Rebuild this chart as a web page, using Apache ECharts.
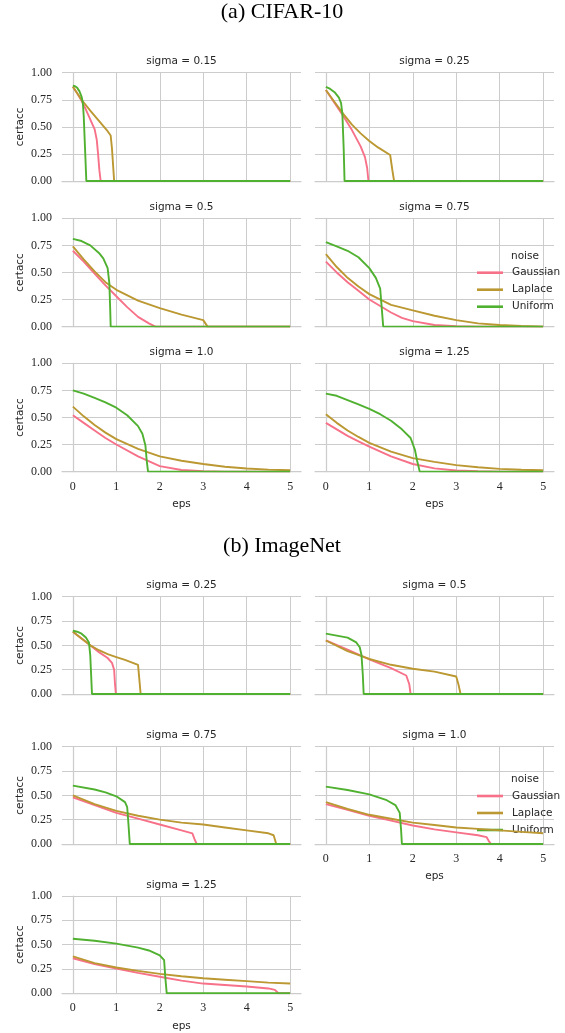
<!DOCTYPE html>
<html><head><meta charset="utf-8">
<script src="https://cdn.jsdelivr.net/npm/echarts@6/dist/echarts.min.js"></script>
<style>html,body{margin:0;padding:0;background:#fff}#c{width:565px;height:1033px}</style>
</head><body><div id="c"></div>
<script>
// ---------- data ----------
const epsTicks = [0, 1, 2, 3, 4, 5];
const yTicks = [0, 0.25, 0.5, 0.75, 1.0];
const yTickLabels = ['0.00', '0.25', '0.50', '0.75', '1.00'];
const noiseNames = ['Gaussian', 'Laplace', 'Uniform'];
const cifarSigmas = ['0.15', '0.25', '0.5', '0.75', '1.0', '1.25'];
const imagenetSigmas = ['0.25', '0.5', '0.75', '1.0', '1.25'];

// CIFAR-10
const c015G = [[0,0.87],[0.1,0.81],[0.2,0.74],[0.3,0.66],[0.4,0.57],[0.5,0.48],[0.55,0.38],[0.58,0.25],[0.61,0.1],[0.64,0],[5,0]];
const c015L = [[0,0.87],[0.1,0.81],[0.2,0.75],[0.4,0.65],[0.6,0.555],[0.8,0.46],[0.87,0.42],[0.9,0.3],[0.93,0.12],[0.95,0],[5,0]];
const c015U = [[0,0.88],[0.05,0.875],[0.1,0.86],[0.15,0.83],[0.2,0.78],[0.23,0.72],[0.25,0.6],[0.28,0.3],[0.31,0],[5,0]];

const c025G = [[0,0.84],[0.2,0.72],[0.4,0.6],[0.6,0.47],[0.8,0.32],[0.9,0.22],[0.95,0.12],[0.98,0],[5,0]];
const c025L = [[0,0.84],[0.2,0.73],[0.4,0.62],[0.6,0.52],[0.8,0.44],[1.0,0.37],[1.2,0.31],[1.48,0.24],[1.53,0.1],[1.57,0],[5,0]];
const c025U = [[0,0.87],[0.1,0.85],[0.2,0.82],[0.3,0.77],[0.35,0.72],[0.38,0.62],[0.41,0.3],[0.43,0],[5,0]];

const c050G = [[0,0.70],[0.25,0.60],[0.5,0.49],[0.75,0.38],[1.0,0.28],[1.25,0.18],[1.5,0.09],[1.75,0.03],[1.9,0],[5,0]];
const c050L = [[0,0.74],[0.25,0.62],[0.5,0.51],[0.75,0.41],[1.0,0.34],[1.5,0.24],[2.0,0.17],[2.5,0.11],[3.0,0.06],[3.05,0.03],[3.1,0],[5,0]];
const c050U = [[0,0.81],[0.2,0.79],[0.4,0.75],[0.6,0.68],[0.7,0.63],[0.8,0.54],[0.84,0.4],[0.86,0.15],[0.87,0],[5,0]];

const c075G = [[0,0.60],[0.25,0.50],[0.5,0.41],[0.75,0.33],[1.0,0.25],[1.25,0.19],[1.5,0.13],[1.75,0.08],[2.0,0.05],[2.5,0.015],[3,0.003],[3.5,0],[5,0]];
const c075L = [[0,0.67],[0.25,0.55],[0.5,0.45],[0.75,0.37],[1.0,0.30],[1.5,0.20],[2.0,0.15],[2.5,0.10],[3.0,0.06],[3.5,0.03],[4.0,0.015],[4.5,0.005],[5,0]];
const c075U = [[0,0.78],[0.25,0.74],[0.5,0.70],[0.75,0.64],[1.0,0.54],[1.15,0.45],[1.25,0.35],[1.28,0.2],[1.32,0],[5,0]];

const c100G = [[0,0.52],[0.25,0.45],[0.5,0.38],[0.75,0.31],[1,0.25],[1.5,0.14],[2,0.05],[2.5,0.015],[3,0.003],[3.5,0],[5,0]];
const c100L = [[0,0.60],[0.25,0.51],[0.5,0.43],[0.75,0.36],[1,0.30],[1.5,0.21],[2,0.14],[2.5,0.10],[3,0.07],[3.5,0.045],[4,0.028],[4.5,0.018],[5,0.012]];
const c100U = [[0,0.75],[0.25,0.72],[0.5,0.68],[0.75,0.64],[1.0,0.59],[1.25,0.52],[1.5,0.42],[1.6,0.35],[1.67,0.24],[1.7,0.1],[1.73,0],[5,0]];

const c125G = [[0,0.45],[0.25,0.39],[0.5,0.33],[0.75,0.28],[1,0.23],[1.5,0.14],[2,0.07],[2.5,0.03],[3,0.01],[3.5,0.003],[4,0],[5,0]];
const c125L = [[0,0.53],[0.25,0.45],[0.5,0.38],[0.75,0.32],[1,0.265],[1.5,0.185],[2,0.125],[2.5,0.09],[3,0.06],[3.5,0.04],[4,0.025],[4.5,0.017],[5,0.012]];
const c125U = [[0,0.72],[0.25,0.70],[0.5,0.66],[0.75,0.62],[1,0.58],[1.25,0.53],[1.5,0.47],[1.75,0.39],[1.95,0.31],[2.05,0.2],[2.1,0.1],[2.16,0],[5,0]];

// ImageNet
const i025G = [[0,0.64],[0.2,0.57],[0.4,0.50],[0.6,0.43],[0.8,0.37],[0.9,0.32],[0.95,0.25],[0.97,0.1],[0.99,0],[5,0]];
const i025L = [[0,0.64],[0.2,0.57],[0.4,0.50],[0.6,0.45],[0.8,0.41],[1.0,0.38],[1.2,0.35],[1.5,0.30],[1.53,0.15],[1.56,0],[5,0]];
const i025U = [[0,0.65],[0.1,0.64],[0.2,0.62],[0.3,0.58],[0.37,0.53],[0.4,0.4],[0.42,0.2],[0.44,0],[5,0]];

const i050G = [[0,0.55],[0.5,0.455],[1.0,0.355],[1.5,0.265],[1.85,0.19],[1.92,0.1],[1.95,0],[5,0]];
const i050L = [[0,0.55],[0.5,0.44],[1.0,0.36],[1.5,0.30],[2.0,0.26],[2.5,0.23],[3.0,0.18],[3.05,0.1],[3.1,0],[5,0]];
const i050U = [[0,0.62],[0.25,0.60],[0.5,0.58],[0.7,0.53],[0.78,0.48],[0.82,0.4],[0.85,0.2],[0.87,0],[5,0]];

const i075G = [[0,0.48],[0.5,0.40],[1,0.32],[1.5,0.26],[2,0.20],[2.5,0.14],[2.75,0.11],[2.8,0.05],[2.85,0],[5,0]];
const i075L = [[0,0.50],[0.5,0.41],[1,0.34],[1.5,0.29],[2,0.25],[2.5,0.22],[3,0.20],[3.5,0.17],[4,0.14],[4.5,0.11],[4.62,0.09],[4.68,0],[5,0]];
const i075U = [[0,0.60],[0.5,0.56],[0.75,0.53],[1.0,0.49],[1.2,0.43],[1.25,0.38],[1.28,0.2],[1.31,0],[5,0]];

const i100G = [[0,0.41],[0.5,0.35],[1,0.29],[1.5,0.24],[2,0.19],[2.5,0.15],[3,0.12],[3.5,0.09],[3.7,0.07],[3.75,0.03],[3.8,0],[5,0]];
const i100L = [[0,0.43],[0.5,0.36],[1,0.30],[1.5,0.26],[2,0.22],[2.5,0.195],[3,0.17],[3.5,0.155],[4,0.14],[4.5,0.125],[5,0.11]];
const i100U = [[0,0.59],[0.5,0.555],[1,0.51],[1.4,0.45],[1.6,0.40],[1.7,0.32],[1.73,0.15],[1.75,0],[5,0]];

const i125G = [[0,0.36],[0.5,0.30],[1,0.255],[1.5,0.21],[2,0.17],[2.5,0.13],[3,0.10],[3.5,0.085],[4,0.07],[4.5,0.05],[4.65,0.035],[4.73,0],[5,0]];
const i125L = [[0,0.38],[0.5,0.31],[1,0.265],[1.5,0.23],[2,0.20],[2.5,0.175],[3,0.155],[3.5,0.14],[4,0.125],[4.5,0.11],[5,0.10]];
const i125U = [[0,0.56],[0.5,0.54],[1,0.51],[1.5,0.47],[1.75,0.44],[2,0.39],[2.1,0.34],[2.13,0.15],[2.16,0],[5,0]];

// ---------- layout / style ----------
const colors = ['#f77189', '#bb9832', '#50b131'];
const gridColor = '#cccccc';
const textColor = '#262626';
const serif = '"Liberation Serif", "DejaVu Serif", serif';
const sans = '"DejaVu Sans", sans-serif';
const colLeft = [62, 315];
const panelW = 239;
const rowTop = [72.7, 218.3, 363.3, 596.7, 746.7, 896];
const rowH = [108.3, 108.3, 108.3, 97.3, 97.3, 97.3];
const xMinFrame = -0.25, xMaxFrame = 5.25;

const panels = [
  {sigma: cifarSigmas[0], data: [c015G, c015L, c015U], col: 0, row: 0, xlab: false},
  {sigma: cifarSigmas[1], data: [c025G, c025L, c025U], col: 1, row: 0, xlab: false},
  {sigma: cifarSigmas[2], data: [c050G, c050L, c050U], col: 0, row: 1, xlab: false},
  {sigma: cifarSigmas[3], data: [c075G, c075L, c075U], col: 1, row: 1, xlab: false},
  {sigma: cifarSigmas[4], data: [c100G, c100L, c100U], col: 0, row: 2, xlab: true},
  {sigma: cifarSigmas[5], data: [c125G, c125L, c125U], col: 1, row: 2, xlab: true},
  {sigma: imagenetSigmas[0], data: [i025G, i025L, i025U], col: 0, row: 3, xlab: false},
  {sigma: imagenetSigmas[1], data: [i050G, i050L, i050U], col: 1, row: 3, xlab: false},
  {sigma: imagenetSigmas[2], data: [i075G, i075L, i075U], col: 0, row: 4, xlab: false},
  {sigma: imagenetSigmas[3], data: [i100G, i100L, i100U], col: 1, row: 4, xlab: true},
  {sigma: imagenetSigmas[4], data: [i125G, i125L, i125U], col: 0, row: 5, xlab: true}
];

const grid = [], xAxis = [], yAxis = [], series = [];
const graphic = [];
const unit = panelW / (xMaxFrame - xMinFrame);

panels.forEach((p, i) => {
  const L = colLeft[p.col], T = rowTop[p.row], H = rowH[p.row];
  grid.push({left: L, top: T, width: panelW, height: H, containLabel: false});
  grid.push({left: L + (0 - xMinFrame) * unit, top: T, width: (epsTicks[epsTicks.length-1] - epsTicks[0]) * unit, height: H, containLabel: false});
  const gf = 2 * i, gt = 2 * i + 1;
  xAxis.push({
    gridIndex: gf, type: 'value', min: xMinFrame, max: xMaxFrame,
    axisLine: {show: true, lineStyle: {color: gridColor, width: 1.25}},
    axisTick: {show: false}, axisLabel: {show: false}, splitLine: {show: false}
  });
  xAxis.push({
    gridIndex: gt, type: 'value', min: epsTicks[0], max: epsTicks[epsTicks.length-1], interval: 1,
    axisLine: {show: false}, axisTick: {show: false},
    axisLabel: {show: p.xlab, margin: 9, color: textColor, fontFamily: serif, fontSize: 12},
    splitLine: {show: true, lineStyle: {color: gridColor, width: 1}},
    name: p.xlab ? 'eps' : '', nameLocation: 'middle', nameGap: 27,
    nameTextStyle: {color: textColor, fontFamily: sans, fontSize: 10.5}
  });
  yAxis.push({
    gridIndex: gf, type: 'value', min: yTicks[0], max: yTicks[yTicks.length-1], interval: 0.25,
    axisLine: {show: true, lineStyle: {color: gridColor, width: 1.25}},
    axisTick: {show: false},
    axisLabel: {show: p.col === 0, margin: 10, color: textColor, fontFamily: serif, fontSize: 12,
      formatter: v => yTickLabels[yTicks.indexOf(v)] ?? ''},
    splitLine: {show: true, lineStyle: {color: gridColor, width: 1}},
    name: p.col === 0 ? 'certacc' : '', nameLocation: 'middle', nameGap: 36, nameRotate: 90,
    nameTextStyle: {color: textColor, fontFamily: sans, fontSize: 10.5}
  });
  yAxis.push({gridIndex: gt, type: 'value', min: 0, max: 1, show: false});
  p.data.forEach((d, k) => {
    series.push({
      type: 'line', name: noiseNames[k], xAxisIndex: gf, yAxisIndex: gf,
      data: d, showSymbol: false, symbol: 'none', clip: true, z: 3 + k,
      lineStyle: {color: colors[k], width: 1.9}, itemStyle: {color: colors[k]},
      emphasis: {disabled: true}, animation: false
    });
  });
  graphic.push({
    type: 'text', x: L + panelW / 2, y: T - 11,
    style: {text: 'sigma = ' + p.sigma, fill: textColor, font: '10.5px ' + sans, textAlign: 'center', textVerticalAlign: 'middle'}
  });
});

graphic.push({type: 'text', x: 282, y: 12, style: {text: '(a) CIFAR-10', fill: '#000', font: '22px ' + serif, textAlign: 'center', textVerticalAlign: 'middle'}});
graphic.push({type: 'text', x: 282, y: 546, style: {text: '(b) ImageNet', fill: '#000', font: '22px ' + serif, textAlign: 'center', textVerticalAlign: 'middle'}});
graphic.push({type: 'text', x: 525, y: 256, style: {text: 'noise', fill: textColor, font: '10.5px ' + sans, textAlign: 'center', textVerticalAlign: 'middle'}});
graphic.push({type: 'text', x: 525, y: 779, style: {text: 'noise', fill: textColor, font: '10.5px ' + sans, textAlign: 'center', textVerticalAlign: 'middle'}});

const legendCommon = {
  data: noiseNames, orient: 'vertical', left: 477, padding: 0,
  icon: 'rect', itemWidth: 26, itemHeight: 2.6, itemGap: 5, selectedMode: false,
  textStyle: {color: textColor, fontFamily: sans, fontSize: 10.5, lineHeight: 12, padding: [0, 0, 0, 4]}
};

const option = {
  backgroundColor: '#fff',
  animation: false,
  grid, xAxis, yAxis, series, graphic,
  legend: [
    Object.assign({}, legendCommon, {top: 266.7}),
    Object.assign({}, legendCommon, {top: 790})
  ]
};

const chart = echarts.init(document.getElementById('c'), null, {renderer: 'canvas'});
chart.setOption(option);
</script>
</body></html>
